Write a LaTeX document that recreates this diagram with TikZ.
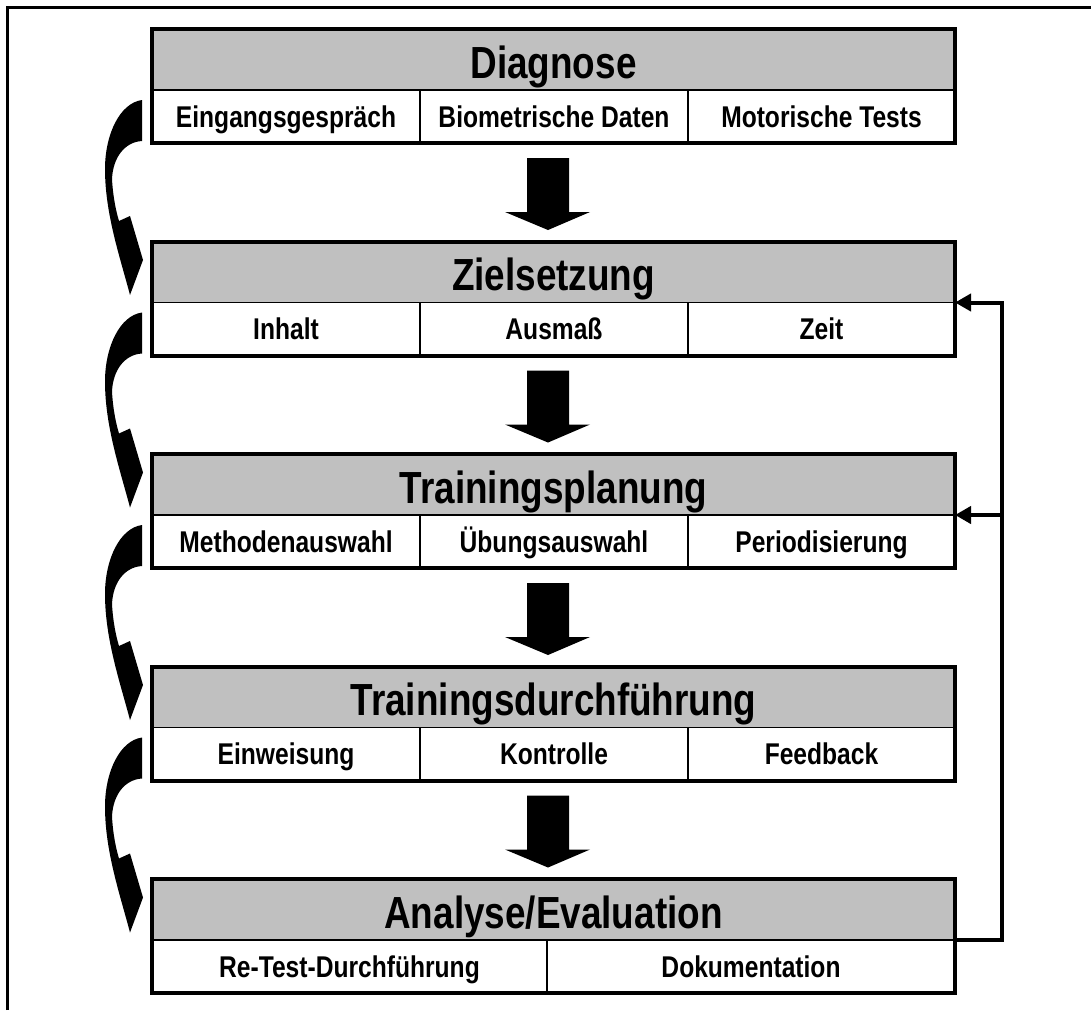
\documentclass[tikz,border=0pt]{standalone}
\usepackage{fontspec}
\setmainfont{Liberation Sans}
\newfontfamily\lab[FakeStretch=0.82]{Liberation Sans}
\usetikzlibrary{arrows.meta,calc}
\definecolor{bandgray}{HTML}{C0C0C0}
\begin{document}
\begin{tikzpicture}[x=1pt,y=-1pt,
  titleband/.style={draw=black, line width=1.5pt, fill=bandgray, minimum width=803pt,
    minimum height=61pt, anchor=north west, inner sep=0pt, outer sep=0pt,
    font=\lab\bfseries\fontsize{45}{50}\selectfont, text height=37pt, text depth=0pt},
  cell/.style={draw=black, line width=1.5pt, fill=white, minimum height=53pt,
    anchor=north west, inner sep=0pt, outer sep=0pt,
    font=\lab\bfseries\fontsize{30}{34}\selectfont, text height=21.5pt, text depth=0pt},
  outline/.style={line width=4pt},
  fb/.style={line width=4pt, line join=miter},
  fbtip/.style={-{Triangle[length=16pt,width=17pt]}},
  blockarrow/.style={fill=black},
  curvarrow/.style={fill=black},
]
\useasboundingbox (0,0) rectangle (1091,1010);
% frame
\draw[line width=3pt] (7,1010) -- (7,7) -- (1091,7);

% Box 1
\node[titleband] (t1) at (152,29) {Diagnose};
\node[cell, minimum width=268pt] (c11) at (t1.south west) {Eingangsgespräch};
\node[cell, minimum width=268pt] (c12) at (c11.north east) {Biometrische Daten};
\node[cell, minimum width=267pt] (c13) at (c12.north east) {Motorische Tests};
\draw[outline] (t1.north west) rectangle (c13.south east);

% Box 2
\node[titleband] (t2) at (152,241.5) {Zielsetzung};
\node[cell, minimum width=268pt] (c21) at (t2.south west) {Inhalt};
\node[cell, minimum width=268pt] (c22) at (c21.north east) {Ausmaß};
\node[cell, minimum width=267pt] (c23) at (c22.north east) {Zeit};
\draw[outline] (t2.north west) rectangle (c23.south east);

% Box 3
\node[titleband] (t3) at (152,454) {Trainingsplanung};
\node[cell, minimum width=268pt] (c31) at (t3.south west) {Methodenauswahl};
\node[cell, minimum width=268pt] (c32) at (c31.north east) {Übungsauswahl};
\node[cell, minimum width=267pt] (c33) at (c32.north east) {Periodisierung};
\draw[outline] (t3.north west) rectangle (c33.south east);

% Box 4
\node[titleband] (t4) at (152,666.5) {Trainingsdurchführung};
\node[cell, minimum width=268pt] (c41) at (t4.south west) {Einweisung};
\node[cell, minimum width=268pt] (c42) at (c41.north east) {Kontrolle};
\node[cell, minimum width=267pt] (c43) at (c42.north east) {Feedback};
\draw[outline] (t4.north west) rectangle (c43.south east);

% Box 5
\node[titleband] (t5) at (152,879) {Analyse/Evaluation};
\node[cell, minimum width=395pt] (c51) at (t5.south west) {Re-Test-Durchführung};
\node[cell, minimum width=408pt] (c52) at (c51.north east) {Dokumentation};
\draw[outline] (t5.north west) rectangle (c52.south east);

% block arrows down
\foreach \t in {29,241.5,454,666.5}{
  \fill[blockarrow, shift={(0,\t)}] (527,129) -- (569,129) -- (569,183) -- (590,183)
    -- (548,201) -- (505,183) -- (527,183) -- cycle;
}

% curved arrows on the left
\foreach \t in {29,241.5,454,666.5}{
  \fill[curvarrow, shift={(0,\t)}] (142,71) .. controls (120,74) and (105,105) .. (105,140)
    .. controls (105,185) and (120,228) .. (130,266) -- (143,231) -- (130,187) -- (119,192)
    .. controls (116,182) and (113,168) .. (112,150)
    .. controls (113,128) and (125,113) .. (142,112) -- cycle;
}

% feedback connector
\coordinate (fbx) at (1002,0);
\draw[fb, fbtip] (t5.south east) -- (t5.south east -| fbx) |- (t2.south east);
\draw[fb, fbtip] (t3.south east -| fbx) -- (t3.south east);
\end{tikzpicture}
\end{document}
